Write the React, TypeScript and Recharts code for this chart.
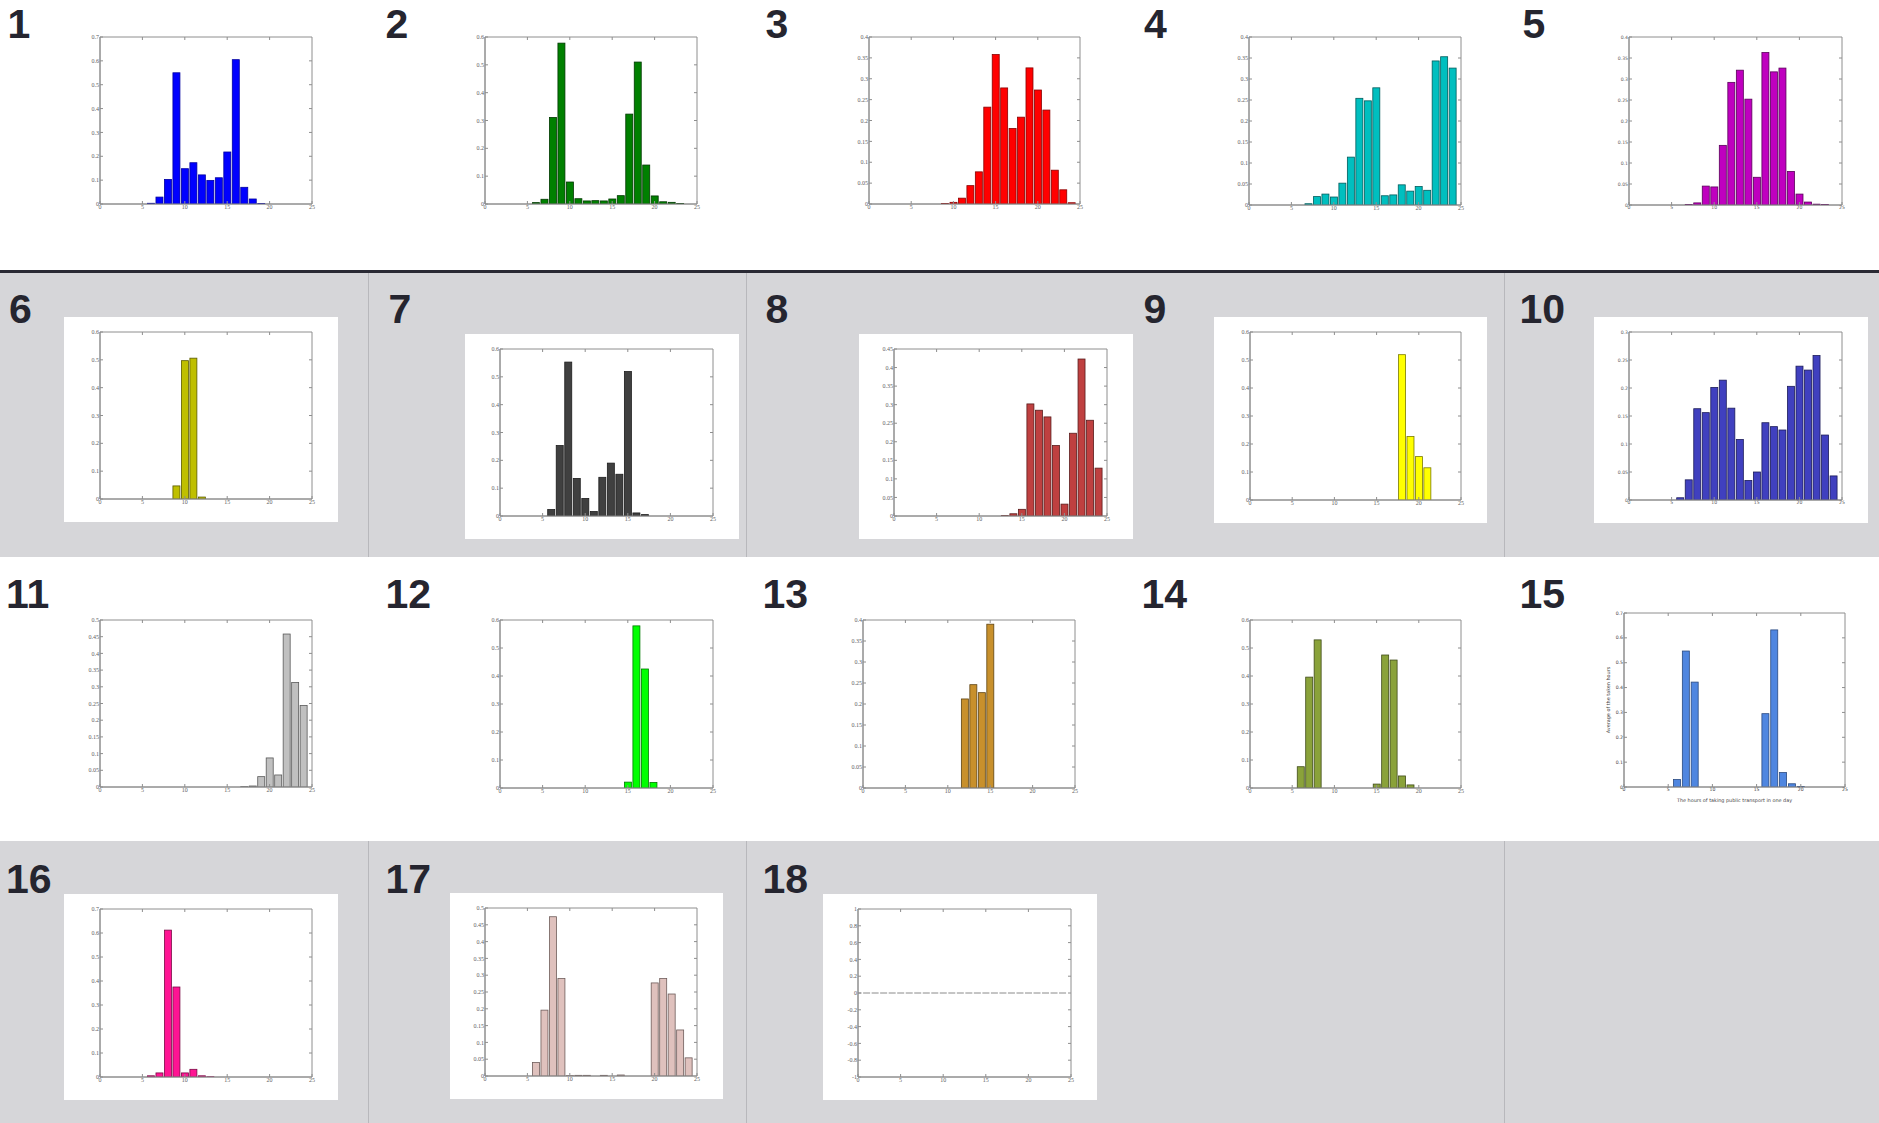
import React from "react";
import { BarChart, Bar, XAxis, YAxis, ReferenceArea, ReferenceLine } from "recharts";

// hours of the day on the x axis (bars centred on each hour)
const HOURS = [0, 1, 2, 3, 4, 5, 6, 7, 8, 9, 10, 11, 12, 13, 14, 15, 16, 17, 18, 19, 20, 21, 22, 23, 24];
const X_TICKS = [0, 5, 10, 15, 20, 25];

// y tick sets
const Y_03 = [0, 0.05, 0.1, 0.15, 0.2, 0.25, 0.3];
const Y_04 = [0, 0.05, 0.1, 0.15, 0.2, 0.25, 0.3, 0.35, 0.4];
const Y_045 = [0, 0.05, 0.1, 0.15, 0.2, 0.25, 0.3, 0.35, 0.4, 0.45];
const Y_05 = [0, 0.05, 0.1, 0.15, 0.2, 0.25, 0.3, 0.35, 0.4, 0.45, 0.5];
const Y_06 = [0, 0.1, 0.2, 0.3, 0.4, 0.5, 0.6];
const Y_07 = [0, 0.1, 0.2, 0.3, 0.4, 0.5, 0.6, 0.7];
const Y_PM1 = [-1, -0.8, -0.6, -0.4, -0.2, 0, 0.2, 0.4, 0.6, 0.8, 1];

// share of trips per hour, one list per panel
const S1 = [0, 0, 0, 0, 0, 0, 0.003, 0.029, 0.103, 0.55, 0.148, 0.173, 0.122, 0.099, 0.11, 0.218, 0.605, 0.07, 0.021, 0.002, 0, 0, 0, 0, 0];
const S2 = [0, 0, 0, 0, 0, 0, 0.005, 0.017, 0.311, 0.578, 0.079, 0.019, 0.011, 0.012, 0.011, 0.018, 0.03, 0.323, 0.51, 0.14, 0.029, 0.008, 0.006, 0.002, 0];
const S3 = [0, 0, 0, 0, 0, 0, 0, 0, 0, 0.001, 0.004, 0.014, 0.044, 0.077, 0.232, 0.358, 0.278, 0.181, 0.208, 0.326, 0.273, 0.225, 0.081, 0.034, 0.003];
const S4 = [0, 0, 0, 0, 0, 0, 0, 0.003, 0.02, 0.026, 0.019, 0.052, 0.114, 0.254, 0.248, 0.279, 0.022, 0.024, 0.048, 0.033, 0.044, 0.035, 0.343, 0.353, 0.326];
const S5 = [0, 0, 0, 0, 0, 0, 0, 0.001, 0.005, 0.045, 0.043, 0.142, 0.292, 0.321, 0.252, 0.066, 0.363, 0.317, 0.326, 0.08, 0.026, 0.007, 0.002, 0.001, 0];
const S6 = [0, 0, 0, 0, 0, 0, 0, 0, 0, 0.047, 0.497, 0.506, 0.007, 0, 0, 0, 0, 0, 0, 0, 0, 0, 0, 0, 0];
const S7 = [0, 0, 0, 0, 0, 0, 0.023, 0.253, 0.553, 0.135, 0.063, 0.016, 0.139, 0.19, 0.15, 0.519, 0.011, 0.005, 0, 0, 0, 0, 0, 0, 0];
const S8 = [0, 0, 0, 0, 0, 0, 0, 0, 0, 0, 0, 0, 0, 0.001, 0.006, 0.018, 0.302, 0.285, 0.267, 0.19, 0.032, 0.223, 0.423, 0.258, 0.129];
const S9 = [0, 0, 0, 0, 0, 0, 0, 0, 0, 0, 0, 0, 0, 0, 0, 0, 0, 0, 0.519, 0.227, 0.155, 0.115, 0, 0, 0];
const S10 = [0, 0, 0, 0, 0, 0, 0.004, 0.036, 0.163, 0.156, 0.201, 0.214, 0.164, 0.108, 0.035, 0.05, 0.138, 0.131, 0.125, 0.203, 0.239, 0.232, 0.258, 0.116, 0.043];
const S11 = [0, 0, 0, 0, 0, 0, 0, 0, 0, 0, 0, 0, 0, 0, 0, 0, 0, 0.001, 0.003, 0.031, 0.087, 0.036, 0.458, 0.313, 0.244];
const S12 = [0, 0, 0, 0, 0, 0, 0, 0, 0, 0, 0, 0, 0, 0, 0, 0.021, 0.579, 0.425, 0.02, 0, 0, 0, 0, 0, 0];
const S13 = [0, 0, 0, 0, 0, 0, 0, 0, 0, 0, 0, 0, 0.212, 0.246, 0.227, 0.39, 0, 0, 0, 0, 0, 0, 0, 0, 0];
const S14 = [0, 0, 0, 0, 0, 0, 0.076, 0.396, 0.529, 0, 0, 0, 0, 0, 0, 0.014, 0.475, 0.457, 0.043, 0.011, 0, 0, 0, 0, 0];
const S15 = [0, 0, 0, 0, 0, 0, 0.03, 0.547, 0.422, 0, 0, 0, 0, 0, 0, 0, 0.295, 0.632, 0.058, 0.013, 0.002, 0, 0, 0, 0];
const S16 = [0, 0, 0, 0, 0, 0, 0.005, 0.017, 0.612, 0.375, 0.017, 0.032, 0.005, 0.001, 0, 0, 0, 0, 0, 0, 0, 0, 0, 0, 0];
const S17 = [0, 0, 0, 0, 0, 0, 0.04, 0.196, 0.474, 0.29, 0.001, 0.002, 0.002, 0, 0.002, 0, 0.003, 0, 0, 0, 0.277, 0.29, 0.244, 0.137, 0.054];
const S18 = [0, 0, 0, 0, 0, 0, 0, 0, 0, 0, 0, 0, 0, 0, 0, 0, 0, 0, 0, 0, 0, 0, 0, 0, 0];

const X_LABEL_15 = "The hours of taking public transport in one day";
const Y_LABEL_15 = "Average of the taken hours";

const AXIS = "#8e8e8e";
const GREY_BG = "#d6d6d9";
const DIVIDER = "#b8b8bc";
const TICK_LEN = 3;

type Panel = {
  n: string;
  values: number[];
  yTicks: number[];
  fill: string;
  edge: string;
  plot: [number, number, number, number]; // plot area left, top, width, height
  num: [number, number]; // big number x, baseline
  sans?: boolean;
  labels?: boolean;
  zeroEdge?: boolean;
};

const PANELS: Panel[] = [
  { n: "1", values: S1, yTicks: Y_07, fill: "#0000ff", edge: "#0000a0", plot: [100, 37, 212, 167], num: [7.5, 38] },
  { n: "2", values: S2, yTicks: Y_06, fill: "#008000", edge: "#003800", plot: [485, 37, 212, 167], num: [385.5, 38] },
  { n: "3", values: S3, yTicks: Y_04, fill: "#ff0000", edge: "#8a0000", plot: [869, 37, 211, 167], num: [765.5, 38] },
  { n: "4", values: S4, yTicks: Y_04, fill: "#00bfbf", edge: "#005c5c", plot: [1249, 37, 212, 168], num: [1144, 38] },
  { n: "5", values: S5, yTicks: Y_04, fill: "#bf00bf", edge: "#5a005a", plot: [1629, 37, 213, 168], num: [1522.5, 38], sans: true },
  { n: "6", values: S6, yTicks: Y_06, fill: "#bfbf00", edge: "#5a5a00", plot: [100, 332, 212, 167], num: [9, 323] },
  { n: "7", values: S7, yTicks: Y_06, fill: "#404040", edge: "#1c1c1c", plot: [500, 349, 213, 167], num: [388.5, 323] },
  { n: "8", values: S8, yTicks: Y_045, fill: "#bf4040", edge: "#5a1c1c", plot: [894, 349, 213, 167], num: [765.5, 323] },
  { n: "9", values: S9, yTicks: Y_06, fill: "#ffff00", edge: "#7a7a00", plot: [1250, 332, 211, 168], num: [1143.5, 323] },
  { n: "10", values: S10, yTicks: Y_03, fill: "#4040bf", edge: "#1c1c5a", plot: [1629, 332, 213, 168], num: [1519.5, 323], sans: true },
  { n: "11", values: S11, yTicks: Y_05, fill: "#c0c0c0", edge: "#5a5a5a", plot: [100, 620, 212, 167], num: [6, 608] },
  { n: "12", values: S12, yTicks: Y_06, fill: "#00ff00", edge: "#007a00", plot: [500, 620, 213, 168], num: [385.5, 608] },
  { n: "13", values: S13, yTicks: Y_04, fill: "#c8902c", edge: "#5e4414", plot: [863, 620, 212, 168], num: [762.5, 608] },
  { n: "14", values: S14, yTicks: Y_06, fill: "#8aa23a", edge: "#404c1a", plot: [1250, 620, 211, 168], num: [1141.5, 608] },
  { n: "15", values: S15, yTicks: Y_07, fill: "#4f86e0", edge: "#2a4a80", plot: [1624, 613, 221, 174], num: [1519.5, 608], sans: true, labels: true },
  { n: "16", values: S16, yTicks: Y_07, fill: "#ff1493", edge: "#7a0a46", plot: [100, 909, 212, 168], num: [6, 893] },
  { n: "17", values: S17, yTicks: Y_05, fill: "#dfc1bd", edge: "#6e5c5a", plot: [485, 908, 212, 168], num: [385.5, 893] },
  { n: "18", values: S18, yTicks: Y_PM1, fill: "#ffffff", edge: "#8a8a8a", plot: [858, 909, 213, 168], num: [762.5, 893], zeroEdge: true },
];

// white cards behind the panels in the grey rows
const CARDS: [number, number, number, number][] = [
  [64, 317, 274, 205],
  [465, 334, 274, 205],
  [859, 334, 274, 205],
  [1214, 317, 273, 206],
  [1594, 317, 274, 206],
  [64, 894, 274, 206],
  [450, 893, 273, 206],
  [823, 894, 274, 206],
];

const fmt = (v: number) => String(Math.round(v * 100) / 100);

function makeShape(fill: string, edge: string, zeroEdge?: boolean) {
  return (props: any) => {
    const { x, y, width, height } = props;
    if (x == null || y == null || !width) return <g />;
    if (!height || Math.abs(height) < 0.05) {
      return zeroEdge ? (
        <line x1={x} x2={x + width} y1={y} y2={y} stroke={edge} strokeWidth={1} />
      ) : (
        <g />
      );
    }
    return <rect x={x} y={y} width={width} height={height} fill={fill} stroke={edge} strokeWidth={0.8} />;
  };
}

function Hist({ p }: { p: Panel }) {
  const [L, T, W, H] = p.plot;
  const padL = 30;
  const padT = 6;
  const padR = 6;
  const xH = p.labels ? 16 : 12;
  const data = HOURS.map((h, i) => ({ h, v: p.values[i] }));
  const font = p.sans ? "'DejaVu Sans', sans-serif" : "'Liberation Serif', 'DejaVu Serif', serif";
  const tickStyle = {
    fontSize: p.sans ? 4.6 : 6,
    fill: p.labels ? "#444" : "#606060",
    fontFamily: font,
  };
  const yMin = p.yTicks[0];
  const yMax = p.yTicks[p.yTicks.length - 1];
  const xMax = X_TICKS[X_TICKS.length - 1];
  // inward tick length on the top and right spines, in data units
  const dy = ((yMax - yMin) * TICK_LEN) / H;
  const dx = (xMax * TICK_LEN) / W;

  return (
    <div style={{ position: "absolute", left: L - padL, top: T - padT }}>
      <BarChart
        width={W + padL + padR}
        height={H + padT + xH}
        data={data}
        margin={{ top: padT, right: padR, left: 0, bottom: 0 }}
        barCategoryGap="10%"
      >
        <XAxis
          dataKey="h"
          type="number"
          domain={[0, xMax]}
          ticks={X_TICKS}
          interval={0}
          allowDataOverflow
          height={xH}
          tickSize={-TICK_LEN}
          tickMargin={4}
          stroke={AXIS}
          tick={tickStyle}
          label={
            p.labels
              ? { value: X_LABEL_15, position: "insideBottom", offset: 1, fontSize: 4.9, fill: "#444", fontFamily: font }
              : undefined
          }
        />
        <YAxis
          type="number"
          domain={[yMin, yMax]}
          ticks={p.yTicks}
          interval={0}
          allowDataOverflow
          width={padL}
          tickSize={-TICK_LEN}
          tickMargin={4}
          tickFormatter={fmt}
          stroke={AXIS}
          tick={tickStyle}
          label={
            p.labels
              ? {
                  value: Y_LABEL_15,
                  angle: -90,
                  position: "insideLeft",
                  offset: 14,
                  fontSize: 4.9,
                  fill: "#444",
                  fontFamily: font,
                  style: { textAnchor: "middle" },
                }
              : undefined
          }
        />
        <Bar dataKey="v" isAnimationActive={false} shape={makeShape(p.fill, p.edge, p.zeroEdge)} />
        {/* plot frame */}
        <ReferenceArea
          x1={0}
          x2={xMax}
          y1={yMin}
          y2={yMax}
          fill="none"
          fillOpacity={0}
          stroke={AXIS}
          strokeWidth={1}
          ifOverflow="visible"
        />
        {X_TICKS.slice(1, -1).map((t) => (
          <ReferenceLine
            key={"tx" + t}
            segment={[
              { x: t, y: yMax },
              { x: t, y: yMax - dy },
            ]}
            stroke={AXIS}
            ifOverflow="visible"
          />
        ))}
        {p.yTicks.slice(1, -1).map((t) => (
          <ReferenceLine
            key={"ty" + t}
            segment={[
              { x: xMax, y: t },
              { x: xMax - dx, y: t },
            ]}
            stroke={AXIS}
            ifOverflow="visible"
          />
        ))}
      </BarChart>
    </div>
  );
}

export default function App() {
  return (
    <div
      style={{
        position: "absolute",
        left: 0,
        top: 0,
        width: 1879,
        height: 1123,
        overflow: "hidden",
        background: "#ffffff",
      }}
    >
      <svg width={1879} height={1123} style={{ position: "absolute", left: 0, top: 0 }}>
        {/* row bands */}
        <rect x={0} y={0} width={1879} height={270} fill="#ffffff" />
        <rect x={0} y={273} width={1879} height={284} fill={GREY_BG} />
        <rect x={0} y={557} width={1879} height={284} fill="#ffffff" />
        <rect x={0} y={841} width={1879} height={282} fill={GREY_BG} />
        <rect x={0} y={270} width={1879} height={3} fill="#2a2a34" />
        {/* cell dividers in the grey rows */}
        {[368, 746, 1504].map((x) => (
          <g key={x}>
            <line x1={x + 0.5} x2={x + 0.5} y1={273} y2={557} stroke={DIVIDER} />
            <line x1={x + 0.5} x2={x + 0.5} y1={841} y2={1123} stroke={DIVIDER} />
          </g>
        ))}
        {CARDS.map(([x, y, w, h], i) => (
          <rect key={i} x={x} y={y} width={w} height={h} fill="#ffffff" />
        ))}
        {PANELS.map((p) => (
          <text
            key={p.n}
            x={p.num[0]}
            y={p.num[1]}
            fontFamily="'Liberation Sans', Arial, sans-serif"
            fontWeight="bold"
            fontSize={41}
            fill="#25252f"
          >
            {p.n}
          </text>
        ))}
      </svg>
      {PANELS.map((p) => (
        <Hist key={p.n} p={p} />
      ))}
    </div>
  );
}
